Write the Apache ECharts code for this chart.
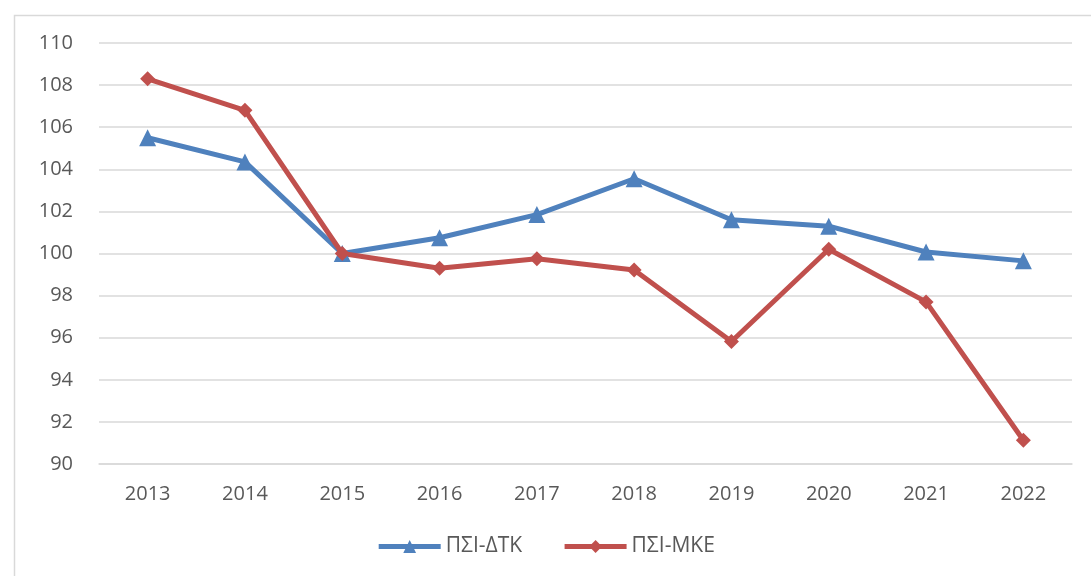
<!DOCTYPE html>
<html lang="el">
<head>
    <meta charset="utf-8"/>
    <title>ΠΣΙ</title>
    <script src="https://cdn.jsdelivr.net/npm/echarts@6/dist/echarts.min.js"></script>
    <style>
        html, body { margin: 0; padding: 0; background: #fff; }
        #chart { width: 1091px; height: 576px; }
    </style>
</head>
<body>
<div id="chart"></div>
<script>
    // data
    const years = ['2013', '2014', '2015', '2016', '2017', '2018', '2019', '2020', '2021', '2022'];
    const dtkName = 'ΠΣΙ-ΔΤΚ';
    const dtkValues = [105.5, 104.35, 100.0, 100.75, 101.85, 103.55, 101.6, 101.3, 100.07, 99.65];
    const mkeName = 'ΠΣΙ-ΜΚΕ';
    const mkeValues = [108.3, 106.8, 100.0, 99.3, 99.75, 99.22, 95.82, 100.2, 97.7, 91.13];

    const chart = echarts.init(document.getElementById('chart'));
    const font = '"Open Sans", "Noto Sans", sans-serif';
    const option = {
        animation: false,
        textStyle: { fontFamily: font },
        graphic: [{
            type: 'rect', left: 12, top: 13,
            shape: { width: 1200, height: 700 },
            style: { fill: 'none', stroke: '#d9d9d9', lineWidth: 1.5 }
        }],
        grid: { left: 99, right: 19, top: 43, bottom: 112 },
        legend: {
            bottom: 14, left: 'center',
            itemWidth: 62, itemHeight: 16, itemGap: 40,
            lineStyle: { width: 5 },
            textStyle: { color: '#595959', fontSize: 21, fontFamily: font },
            data: [dtkName, mkeName]
        },
        xAxis: {
            type: 'category',
            data: years,
            axisLine: { lineStyle: { color: '#d9d9d9', width: 1.5 } },
            axisTick: { show: false },
            axisLabel: { color: '#595959', fontSize: 20, margin: 20, fontFamily: font }
        },
        yAxis: {
            type: 'value', min: 90, max: 110, interval: 2,
            axisLine: { show: false },
            axisTick: { show: false },
            splitLine: { lineStyle: { color: '#d9d9d9', width: 1.5 } },
            axisLabel: { color: '#595959', fontSize: 20, margin: 26, fontFamily: font }
        },
        series: [{
            name: dtkName, type: 'line', data: dtkValues,
            symbol: 'triangle', symbolSize: 17,
            lineStyle: { color: '#4f81bd', width: 5 },
            itemStyle: { color: '#4f81bd' }
        }, {
            name: mkeName, type: 'line', data: mkeValues,
            symbol: 'diamond', symbolSize: 15,
            lineStyle: { color: '#c0504d', width: 5 },
            itemStyle: { color: '#c0504d' }
        }]
    };
    chart.setOption(option);
</script>
</body>
</html>
